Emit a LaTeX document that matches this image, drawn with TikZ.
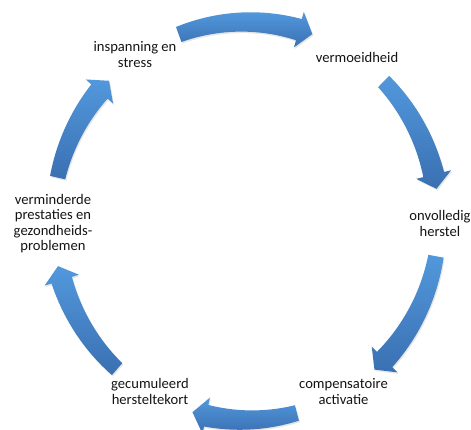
\documentclass[tikz,border=0pt]{standalone}
\usepackage{fontspec}
\setmainfont{Carlito}
\usetikzlibrary{shadows}
\definecolor{arrowlight}{RGB}{82,152,220}
\definecolor{arrowdark}{RGB}{58,112,178}
\definecolor{txt}{RGB}{20,20,20}
\tikzset{
 lbl/.style={font=\fontsize{14.6}{15.5}\selectfont, align=center, inner sep=0pt, text=txt},
 cyc/.style={top color=arrowlight, bottom color=arrowdark, drop shadow={opacity=0.2, shadow xshift=1pt, shadow yshift=-1.5pt}}
}
\newcommand\cyclearrow[2]{%
 \pgfmathsetmacro\hA{#1}\pgfmathsetmacro\hB{#2}\pgfmathsetmacro\hH{#2+4.2}%
 \path[cyc] plot[domain=\hA:\hH, samples=24, variable=\t] ({\t}:{199+8+3*(\hA-\t)/(\hA-\hH)}) -- (\hH:217.5) -- (\hB:199) -- (\hH:180.5) -- plot[domain=\hH:\hA, samples=24, variable=\t] ({\t}:{199-8-3*(\hA-\t)/(\hA-\hH)}) -- cycle;
}
\begin{document}
\begin{tikzpicture}[x=1pt,y=1pt]
\useasboundingbox (-246,-209) rectangle (225,221);
\begin{scope}[xscale=0.97]
 \cyclearrow{110.4}{69.9}
 \cyclearrow{44.5}{9.3}
 \cyclearrow{-10.2}{-48.3}
 \cyclearrow{-74.7}{-106.1}
 \cyclearrow{-131.9}{-166.9}
 \cyclearrow{167.4}{135.2}
\end{scope}
\node[lbl] (n1) at (-111,166.5) {inspanning en\\stress};
\node[lbl] (n2) at (111,164) {vermoeidheid};
\node[lbl] (n3) at (194,-2.5) {onvolledig\\herstel};
\node[lbl] (n4) at (97.5,-170.5) {compensatoire\\activatie};
\node[lbl] (n5) at (-96,-170.5) {gecumuleerd\\hersteltekort};
\node[lbl] (n6) at (-193,-2.5) {verminderde\\prestaties en\\gezondheids-\\problemen};
\end{tikzpicture}
\end{document}
